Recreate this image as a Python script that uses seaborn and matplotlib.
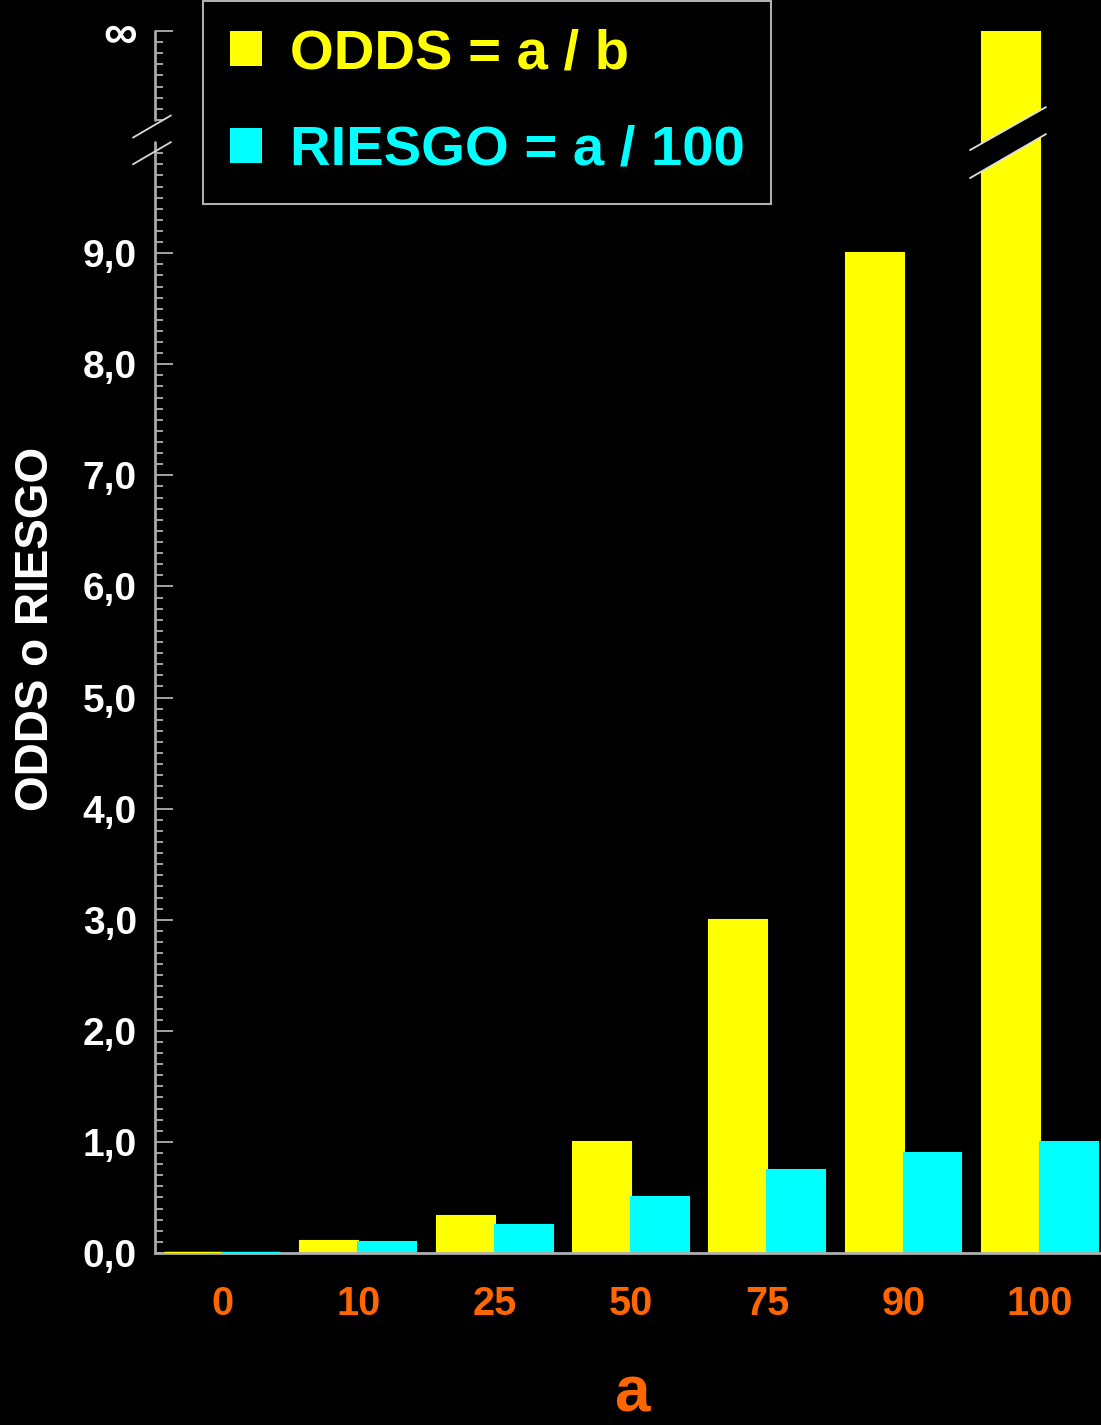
import numpy as np
import pandas as pd
import matplotlib
matplotlib.use("Agg")
import matplotlib.pyplot as plt
import seaborn as sns
from matplotlib.patches import Patch, Polygon

# ---------------- data ----------------
categories = ["0", "10", "25", "50", "75", "90", "100"]
odds = [0.0, 0.111, 0.333, 1.0, 3.0, 9.0, np.inf]
riesgo = [0.0, 0.10, 0.25, 0.50, 0.75, 0.90, 1.00]
series_labels = ["ODDS = a / b", "RIESGO = a / 100"]
series_colors = ["#FFFF00", "#00FFFF"]
ytick_values = [0, 1, 2, 3, 4, 5, 6, 7, 8, 9, 11]
ytick_labels = ["0,0", "1,0", "2,0", "3,0", "4,0", "5,0", "6,0", "7,0", "8,0", "9,0", "∞"]
INF_POSITION = 11.0  # axis position of the "∞" tick

odds_plot = [INF_POSITION if np.isinf(v) else v for v in odds]
df = pd.DataFrame({
    "a": categories * 2,
    "valor": odds_plot + riesgo,
    "serie": [series_labels[0]] * len(categories) + [series_labels[1]] * len(categories),
})

# ---------------- style ----------------
sns.set_style("ticks")
plt.rcParams["font.family"] = ["Liberation Sans", "DejaVu Sans"]
plt.rcParams["font.weight"] = "bold"
plt.rcParams["axes.labelweight"] = "bold"

W, H = 1101, 1425
fig = plt.figure(figsize=(W / 100, H / 100), dpi=100, facecolor="black")
ax = fig.add_axes([155 / W, (H - 1253) / H, 946 / W, 1222 / H])
ax.set_facecolor("black")

sns.barplot(data=df, x="a", y="valor", hue="serie", order=categories,
            hue_order=series_labels, palette=series_colors, width=0.85,
            saturation=1, ax=ax, legend=False, linewidth=1.5, errorbar=None)
for p in ax.patches:
    p.set_edgecolor(p.get_facecolor())
    if p.get_height() == 0:
        p.set_linewidth(2.5)
        p.set_zorder(3)

ax.set_xlim(-0.4916, 6.449)
ax.set_ylim(0, 11.0)

# spines
for s in ["top", "right", "left"]:
    ax.spines[s].set_visible(False)
ax.spines["bottom"].set_color("#b0b0b0")
ax.spines["bottom"].set_linewidth(2)

spine_col = "#a8a8a8"
ytr = ax.get_yaxis_transform()
ax.plot([0, 0], [0, 10.0], transform=ytr, color=spine_col, lw=2, clip_on=False, zorder=4)
ax.plot([0, 0], [10.2, 11.0], transform=ytr, color=spine_col, lw=2, clip_on=False, zorder=4)
# axis break slashes
ax.plot([-0.0233, 0.0169], [10.04, 10.24], transform=ytr, color="#d8d8d8", lw=1.3, clip_on=False, zorder=5)
ax.plot([-0.0233, 0.0169], [9.80, 10.00], transform=ytr, color="#d8d8d8", lw=1.3, clip_on=False, zorder=5)

# bar break for infinite value
band = Polygon([(5.488, 9.928), (6.045, 10.315), (6.045, 10.072), (5.488, 9.676)],
               closed=True, facecolor="black", edgecolor="none", zorder=5)
ax.add_patch(band)
ax.plot([5.488, 6.045], [9.928, 10.315], color="#e0e0e0", lw=1.3, zorder=6)
ax.plot([5.488, 6.045], [9.676, 10.072], color="#e0e0e0", lw=1.3, zorder=6)

# ticks
ax.set_yticks(ytick_values, ytick_labels)
minor = [round(i / 10, 1) for i in range(1, 100) if i % 10] + [round(10 + i / 10, 1) for i in range(2, 10)]
ax.set_yticks(minor, minor=True)
ax.tick_params(axis="y", which="major", direction="in", length=13, width=1.1,
               color="#d0d0d0", labelcolor="white", labelsize=28, pad=13)
ax.tick_params(axis="y", which="minor", direction="in", length=6, width=1.1, color="#d0d0d0")
ax.tick_params(axis="x", length=0, labelcolor="#FF6600", labelsize=28.5, pad=23)
ax.get_yticklabels()[-1].set_fontsize(34)

ax.set_ylabel("ODDS o RIESGO", color="white", fontsize=33, fontweight="bold", va="center")
ax.yaxis.set_label_coords(-0.126, 0.5106)
ax.set_xlabel("a", color="#FF6600", fontsize=46, fontweight="bold", va="bottom")
ax.xaxis.set_label_coords(0.504, -(1424 - 1253) / 1222)

# legend
handles = [Patch(facecolor=c, edgecolor="none") for c in series_colors]
leg = fig.legend(handles, series_labels, loc="upper left",
                 bbox_to_anchor=(203 / W, 1 - 1 / H), frameon=True, fancybox=False,
                 facecolor="black", edgecolor="#b0b0b0", framealpha=1,
                 prop={"size": 40.5, "weight": "bold"}, handlelength=0.56, handleheight=0.58,
                 handletextpad=0.5, borderpad=0.48, labelspacing=0.8, borderaxespad=0)
leg.get_frame().set_linewidth(1.5)
for t, c in zip(leg.get_texts(), series_colors):
    t.set_color(c)

fig.savefig("out.png", dpi=100, facecolor="black")
